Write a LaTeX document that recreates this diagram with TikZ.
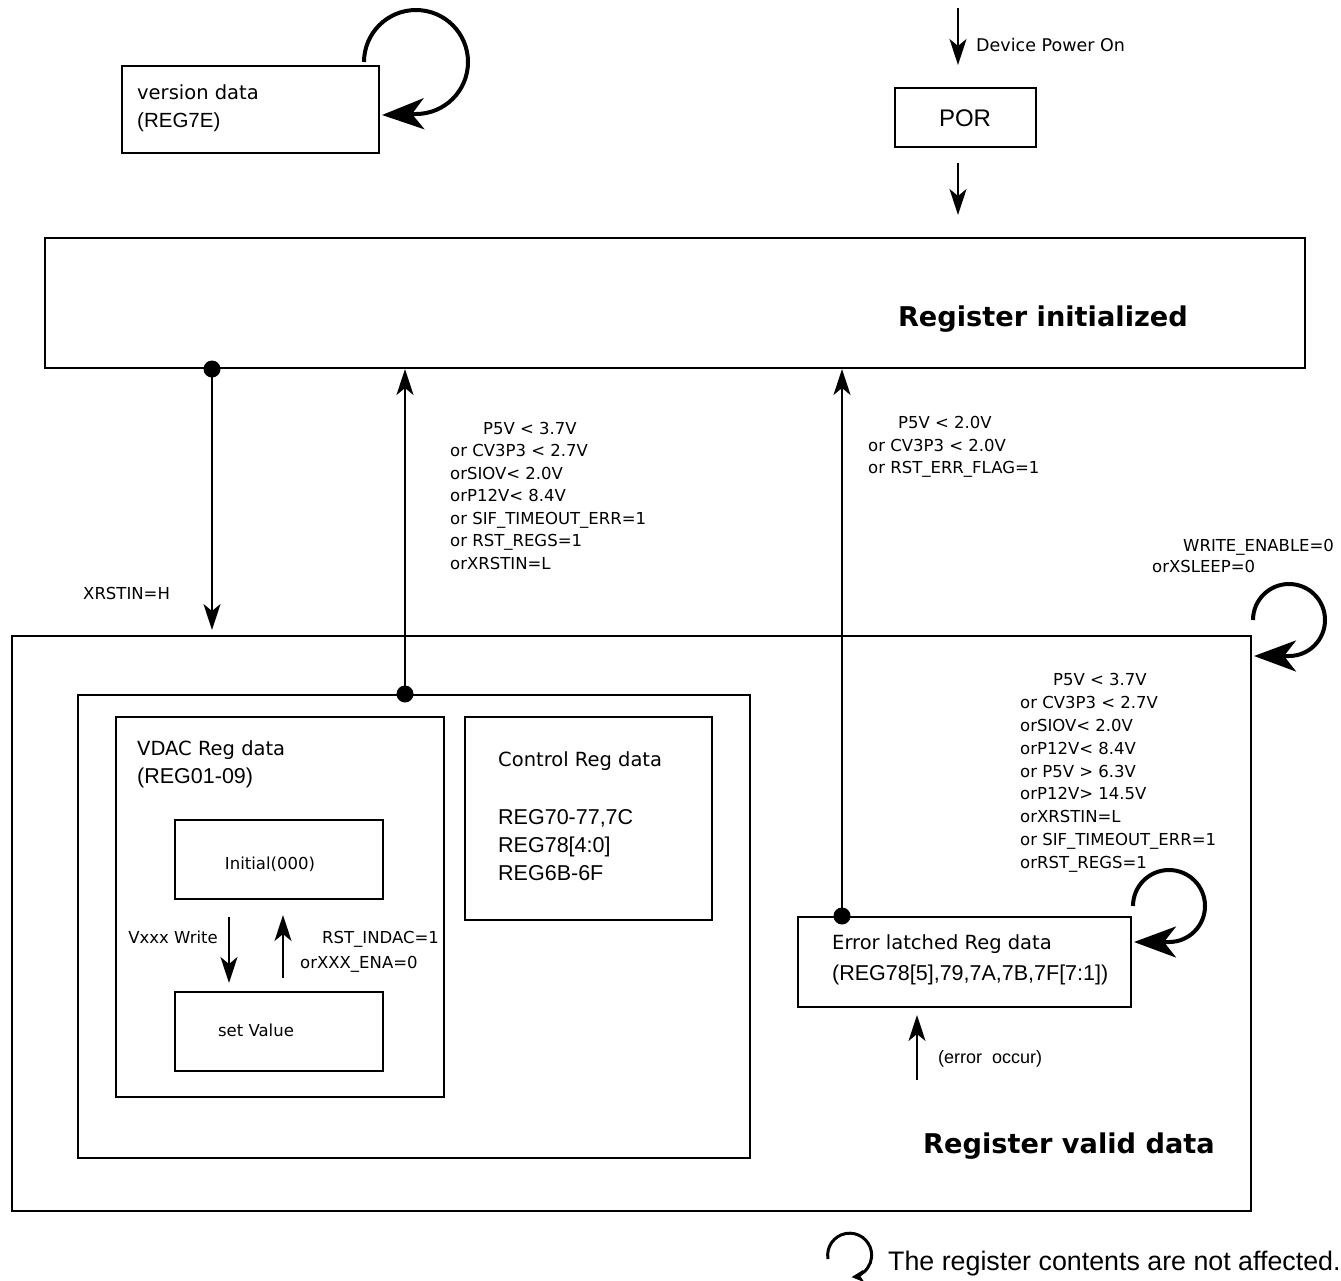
\documentclass[tikz,border=0pt]{standalone}
\usepackage{fontspec}
\setmainfont{DejaVu Sans}
\newfontfamily\lib{Liberation Sans}
\usetikzlibrary{arrows.meta,calc}
\begin{document}
\begin{tikzpicture}[x=1pt,y=-1pt,
  box/.style={draw,line width=2pt,inner sep=0pt,rectangle},
  arr/.style={line width=2pt,-{Stealth[length=26pt,width=17pt,inset=7pt]}},
  loopa/.style={line width=4pt,-{Stealth[length=42pt,width=31pt,inset=12pt]}},
  dot/.style={circle,fill,inner sep=0pt,minimum size=17pt},
  lbl/.style={anchor=base west,inner sep=0pt,font=\fontsize{16.5}{18}\selectfont},
  lblr/.style={anchor=base east,inner sep=0pt,font=\fontsize{16.5}{18}\selectfont},
  ttl/.style={anchor=base west,inner sep=0pt,font=\fontsize{19.5}{22}\selectfont},
  code/.style={anchor=base west,inner sep=0pt,font=\lib\fontsize{21.5}{24}\selectfont},
  big/.style={anchor=base east,inner sep=0pt,font=\bfseries\fontsize{27.2}{30}\selectfont}
]
\useasboundingbox (0,0) rectangle (1341,1280);

% boxes
\node[box,minimum width=257pt,minimum height=87pt] (ver) at (250.5,109.5) {};
\node[box,minimum width=141pt,minimum height=59pt] (por) at (965.5,117.5) {};
\node[box,minimum width=1260pt,minimum height=130pt] (init) at (675,303) {};
\node[box,minimum width=1239pt,minimum height=575pt] (valid) at (631.5,923.5) {};
\node[box,minimum width=672pt,minimum height=463pt] (inner) at (414,926.5) {};
\node[box,minimum width=328pt,minimum height=380pt] (vdac) at (280,907) {};
\node[box,minimum width=208pt,minimum height=79pt] (initial) at (279,859.5) {};
\node[box,minimum width=208pt,minimum height=79pt] (setv) at (279,1031.5) {};
\node[box,minimum width=247pt,minimum height=203pt] (ctrl) at (588.5,818.5) {};
\node[box,minimum width=333pt,minimum height=90pt] (err) at (964.5,962) {};

% box texts
\node[ttl] (vert1) at (137,99) {version data};
\node[code,font=\lib\fontsize{20.5}{24}\selectfont] (vert2) at (137,127) {(REG7E)};
\node[anchor=base,inner sep=0pt,font=\lib\fontsize{24}{28}\selectfont] (port) at (965,126.5) {POR};
\node[big] (initt) at (1188,326) {Register initialized};
\node[big] (validt) at (1215,1153) {Register valid data};
\node[ttl] (vdact1) at (137,755) {VDAC Reg data};
\node[code] (vdact2) at (137,783) {(REG01-09)};
\node[anchor=base,inner sep=0pt,font=\fontsize{16.5}{18}\selectfont] (initialt) at (270,869) {Initial(000)};
\node[anchor=base,inner sep=0pt,font=\fontsize{16.5}{18}\selectfont] (setvt) at (256,1036) {set Value};
\node[ttl] (ctrlt) at (498,766) {Control Reg data};
\node[code] (ctrl1) at (498,824) {REG70-77,7C};
\node[code] (ctrl2) at (498,852) {REG78[4:0]};
\node[code] (ctrl3) at (498,880) {REG6B-6F};
\node[ttl] (errt1) at (832,949) {Error latched Reg data};
\node[code] (errt2) at (832,980) {(REG78[5],79,7A,7B,7F[7:1])};

% labels
\node[lbl,font=\fontsize{17.5}{19}\selectfont] (pwrl) at (976,51) {Device Power On};
\node[lbl] (xrl) at (83,599) {XRSTIN=H};
\node[lbl] (m1) at (483,434) {P5V < 3.7V};
\node[lbl] (m2) at (450,456.5) {or CV3P3 < 2.7V};
\node[lbl] (m3) at (450,479) {orSIOV< 2.0V};
\node[lbl] (m4) at (450,501.5) {orP12V< 8.4V};
\node[lbl] (m5) at (450,524) {or SIF\_TIMEOUT\_ERR=1};
\node[lbl] (m6) at (450,546.5) {or RST\_REGS=1};
\node[lbl] (m7) at (450,569) {orXRSTIN=L};
\node[lbl] (u1) at (898,428) {P5V < 2.0V};
\node[lbl] (u2) at (868,451) {or CV3P3 < 2.0V};
\node[lbl] (u3) at (868,473) {or RST\_ERR\_FLAG=1};
\node[lbl] (w1) at (1183,551) {WRITE\_ENABLE=0};
\node[lbl] (w2) at (1152,572) {orXSLEEP=0};
\node[lbl] (r1) at (1053,685) {P5V < 3.7V};
\node[lbl] (r2) at (1020,708) {or CV3P3 < 2.7V};
\node[lbl] (r3) at (1020,731) {orSIOV< 2.0V};
\node[lbl] (r4) at (1020,754) {orP12V< 8.4V};
\node[lbl] (r5) at (1020,777) {or P5V > 6.3V};
\node[lbl] (r6) at (1020,799.5) {orP12V> 14.5V};
\node[lbl] (r7) at (1020,822.5) {orXRSTIN=L};
\node[lbl] (r8) at (1020,845.5) {or SIF\_TIMEOUT\_ERR=1};
\node[lbl] (r9) at (1020,868) {orRST\_REGS=1};
\node[lblr] (vw) at (218,943) {Vxxx Write};
\node[lbl] (rs1) at (322,943) {RST\_INDAC=1};
\node[lbl] (rs2) at (300,968) {orXXX\_ENA=0};
\node[anchor=base west,inner sep=0pt,font=\lib\fontsize{18}{20}\selectfont] (eo) at (938,1063) {(error\ \ occur)};
\node[anchor=base west,inner sep=0pt,font=\lib\fontsize{26.8}{30}\selectfont] (legt) at (888,1270) {The register contents are not affected.};

% free-end coordinates
\coordinate (pwrA) at (958,8);
\coordinate (pwrB) at (958,65);
\coordinate (porA) at (958,163);
\coordinate (porB) at (958,215);
\coordinate (vwA) at (229,917);
\coordinate (vwB) at (229,983);
\coordinate (rsA) at (283,978);
\coordinate (rsB) at (283,915);
\coordinate (eoA) at (917,1080);
\coordinate (eoB) at (917,1015);

% straight arrows
\draw[arr] (pwrA) -- (pwrB);
\draw[arr] (porA) -- (porB);
\draw[arr,shorten >=5pt] (init.south -| 212,0) -- (valid.north -| 212,0);
\draw[arr] (inner.north -| 405,0) -- (init.south -| 405,0);
\draw[arr] (err.north -| 842,0) -- (init.south -| 842,0);
\draw[arr] (vwA) -- (vwB);
\draw[arr] (rsA) -- (rsB);
\draw[arr] (eoA) -- (eoB);

% dots
\node[dot] (d1) at (init.south -| 212,0) {};
\node[dot] (d2) at (inner.north -| 405,0) {};
\node[dot] (d3) at (err.north -| 842,0) {};

% self loops
\draw[loopa] ($(ver.north east)+(-16,-3)$) arc[start angle=180,end angle=450,radius=52] -- ($(ver.east)+(2,5.5)$);
\draw[loopa] ($(valid.north east)+(1,-15)$) arc[start angle=180,end angle=450,radius=36] -- ($(valid.north east)+(2,21)$);
\draw[loopa] ($(err.north east)+(1,-10)$) arc[start angle=180,end angle=450,radius=36] -- ($(err.north east)+(2,26)$);

% legend loop
\coordinate (legc) at (828,1259);
\draw[line width=3pt,-{Stealth[length=12pt,width=12pt,inset=3pt]}] (legc) arc[start angle=170,end angle=445,radius=22];
\end{tikzpicture}
\end{document}
